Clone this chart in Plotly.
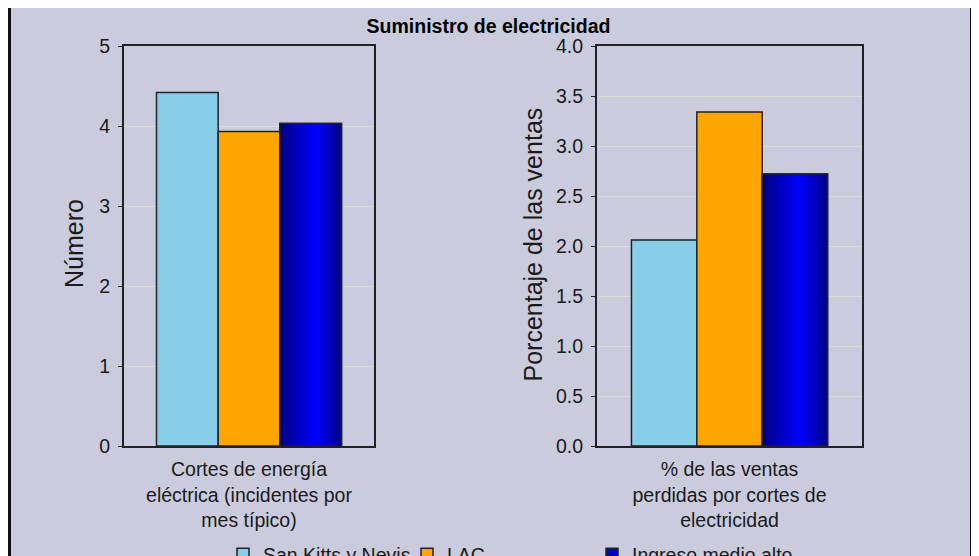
import plotly.graph_objects as go

# ---------------- data ----------------
chart_title = "Suministro de electricidad"
series_names = ["San Kitts y Nevis", "LAC", "Ingreso medio alto"]
cat_left = ["Cortes de energía<br>eléctrica (incidentes por<br>mes típico)"]
cat_right = ["% de las ventas<br>perdidas por cortes de<br>electricidad"]
values_left = [4.42, 3.93, 4.03]     # Número
values_right = [2.06, 3.34, 2.72]    # Porcentaje de las ventas
ytitle_left = "Número"
ytitle_right = "Porcentaje de las ventas"
yticks_left = [0, 1, 2, 3, 4, 5]
yticks_right = [0.0, 0.5, 1.0, 1.5, 2.0, 2.5, 3.0, 3.5, 4.0]

# ---------------- style ----------------
FONT = "Liberation Sans, Arial, sans-serif"
TXT = "#1a1a1a"
BG = "#CACCDE"
GRID = "#DCDCD4"
EDGE = "#222222"
colors = ["#87CEEB", "#FFA500", "#0000C8"]
legends = ["legend", "legend", "legend2"]
bargap = 0.26
slot = (1 - bargap) / 3
SH = 8  # page body margin compensation (px)

fig = go.Figure()
panels = [(cat_left, values_left, "x", "y"), (cat_right, values_right, "x2", "y2")]

for i, name in enumerate(series_names):
    for j, (cats, vals, xa, ya) in enumerate(panels):
        off = -0.5 * (1 - bargap) + i * slot
        fig.add_trace(go.Bar(
            x=cats, y=[vals[i]], xaxis=xa, yaxis=ya, name=name,
            legendgroup=name, showlegend=(j == 0), legend=legends[i],
            marker=dict(color=colors[i], line=dict(color=EDGE, width=1.5)),
            width=slot, offset=off, hoverinfo="name+y",
        ))
        if i == 2:
            # simulated horizontal gradient (dark edges, bright centre)
            N = 18
            peak = 0.58
            for k in range(N):
                p = (k + 0.5) / N
                t = 1 - (abs(p - peak) / (peak if p < peak else 1 - peak))
                t = max(0.0, min(1.0, t))
                b = int(125 + 130 * t ** 0.9)
                fig.add_trace(go.Bar(
                    x=cats, y=[vals[i]], xaxis=xa, yaxis=ya, showlegend=False,
                    marker=dict(color=f"rgb(0,0,{b})", line=dict(width=0)),
                    width=slot / N * 1.04, offset=off + k * slot / N,
                    hoverinfo="skip",
                ))
            fig.add_trace(go.Bar(
                x=cats, y=[vals[i]], xaxis=xa, yaxis=ya, showlegend=False,
                marker=dict(color="rgba(0,0,0,0)", line=dict(color=EDGE, width=1.5)),
                width=slot, offset=off, hoverinfo="skip",
            ))

axis_common = dict(showline=True, mirror=True, linecolor=EDGE, linewidth=2,
                   tickfont=dict(family=FONT, size=19.5, color=TXT))
legend_common = dict(orientation="h", xanchor="left", y=(446 - 535) / 400, yanchor="top",
                     traceorder="normal", font=dict(family=FONT, size=19.5, color=TXT),
                     bgcolor="rgba(0,0,0,0)")

fig.update_layout(
    width=979, height=556,
    margin=dict(l=124 - SH, r=979 - (862 - SH), t=46 - SH, b=556 - (446 - SH), autoexpand=False),
    paper_bgcolor="white", plot_bgcolor="rgba(0,0,0,0)",
    barmode="overlay",
    font=dict(family=FONT, color=TXT),
    title=dict(text="<b>" + chart_title + "</b>", x=(488.5 - SH) / 979, xanchor="center",
               y=1 - (26 - SH) / 556, yanchor="middle",
               font=dict(family=FONT, size=19.5, color="#000")),
    xaxis=dict(domain=[0, 250 / 738], range=[-0.5, 0.5], anchor="y", ticks="",
               showgrid=False, ticklabelstandoff=5, **axis_common),
    xaxis2=dict(domain=[473 / 738, 1], range=[-0.5, 0.5], anchor="y2", ticks="",
                showgrid=False, ticklabelstandoff=5, **axis_common),
    yaxis=dict(domain=[0, 1], range=[0, 5], tickvals=yticks_left, anchor="x",
               ticks="outside", ticklen=4, tickcolor=EDGE, showgrid=True, gridcolor=GRID,
               ticklabelstandoff=4, zeroline=False, **axis_common),
    yaxis2=dict(domain=[0, 1], range=[0, 4], tickvals=yticks_right, tickformat=".1f",
                anchor="x2", ticks="outside", ticklen=4, tickcolor=EDGE, showgrid=True,
                gridcolor=GRID, ticklabelstandoff=4, zeroline=False, **axis_common),
    legend=dict(x=(223 - 124) / 738, entrywidth=139, entrywidthmode="pixels", **legend_common),
    legend2=dict(x=(592 - 124) / 738, **legend_common),
    shapes=[dict(type="rect", xref="paper", yref="paper",
                 x0=(9.5 - 124) / 738, x1=(971.5 - 124) / 738,
                 y0=-0.5, y1=(446 - 6.5) / 400,
                 fillcolor=BG, line=dict(color="#111", width=3), layer="below")],
    annotations=[
        dict(text=ytitle_left, textangle=-90, xref="paper", yref="paper",
             x=(74 - 124) / 738, y=(446 - 244) / 400, xanchor="center", yanchor="middle",
             showarrow=False, font=dict(family=FONT, size=25, color=TXT)),
        dict(text=ytitle_right, textangle=-90, xref="paper", yref="paper",
             x=(532 - 124) / 738, y=(446 - 244.5) / 400, xanchor="center", yanchor="middle",
             showarrow=False, font=dict(family=FONT, size=25, color=TXT)),
    ],
)

fig.write_html("out.html")
